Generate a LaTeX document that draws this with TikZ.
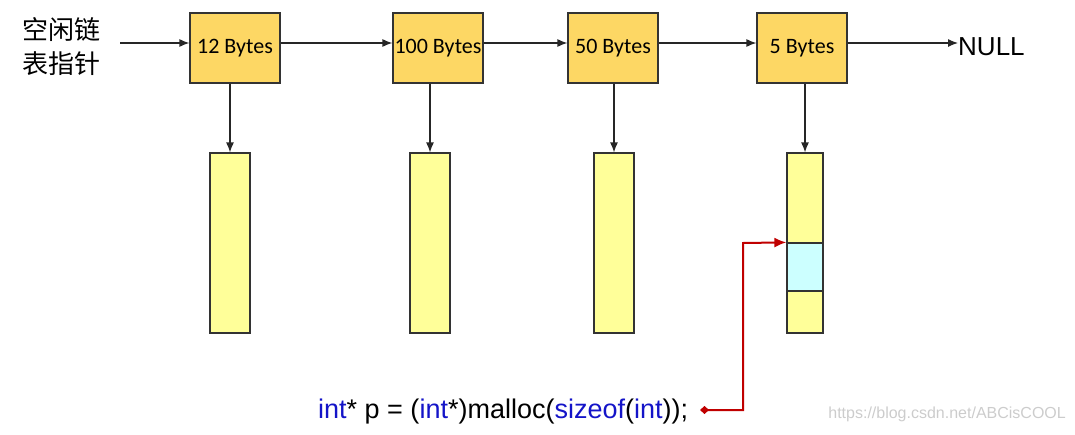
\documentclass[tikz,border=0pt]{standalone}
\usepackage{fontspec}
\setmainfont{Liberation Sans}
\newfontfamily\cjk{Noto Sans CJK SC}
\newfontfamily\cali{Carlito}
\usetikzlibrary{arrows.meta}
\definecolor{headfill}{RGB}{253,215,100}
\definecolor{blockfill}{RGB}{255,255,153}
\definecolor{usedfill}{RGB}{204,255,255}
\definecolor{codeblue}{RGB}{20,20,200}
\definecolor{ptrred}{RGB}{192,0,0}
\begin{document}
\begin{tikzpicture}[x=1pt, y=-1pt,
      head/.style = {draw=black!80, line width=1.2pt, fill=headfill, minimum width=90pt,
        minimum height=70pt, inner sep=0pt, font=\cali\fontsize{22}{22}\selectfont},
      block/.style = {draw=black!80, line width=1.2pt, fill=blockfill, minimum width=40pt,
        minimum height=180pt, inner sep=0pt},
      link/.style = {-{Latex[length=10pt,width=8pt]}, line width=1.2pt, black!85}
    ]
  \useasboundingbox (0,0) rectangle (1075,434);
  \node[font=\cjk\fontsize{26}{34}\selectfont, align=left, inner sep=0pt] (free) at (61,47) {空闲链\\表指针};
  \coordinate (start) at (120,43);
  \node[head] (h1) at (235,48) {\raisebox{-2pt}{12 Bytes}};
  \node[head] (h2) at (438,48) {\raisebox{-2pt}{100 Bytes}};
  \node[head] (h3) at (613,48) {\raisebox{-2pt}{50 Bytes}};
  \node[head] (h4) at (802,48) {\raisebox{-2pt}{5 Bytes}};
  \node[font=\fontsize{26}{26}\selectfont, anchor=west, inner sep=0pt] (null) at (958,47) {NULL};
  \draw[link] (start) -- (start -| h1.west);
  \draw[link] (h1.east |- start) -- (h2.west |- start);
  \draw[link] (h2.east |- start) -- (h3.west |- start);
  \draw[link] (h3.east |- start) -- (h4.west |- start);
  \draw[link] (h4.east |- start) -- (null.west |- start);
  % memory blocks
  \node[block] (b1) at (230,243) {};
  \node[block] (b2) at (430,243) {};
  \node[block] (b3) at (614,243) {};
  \node[block, minimum width=36pt] (b4) at (805,243) {};
  \node[draw=black!80, line width=1.2pt, fill=usedfill, minimum width=36pt, minimum height=48pt,
    inner sep=0pt] (used) at (805,267) {};
  \foreach \x/\i in {230/1,430/2,614/3,805/4}
    \draw[link] (h\i.south -| \x,0) -- (b\i.north -| \x,0);
  % malloc
  \node[font=\fontsize{27}{27}\selectfont, anchor=base west, inner sep=0pt] (code) at (318,418)
    {\textcolor{codeblue}{int}* p = (\textcolor{codeblue}{int}*)malloc(\textcolor{codeblue}{sizeof}(\textcolor{codeblue}{int}));};
  \coordinate (src) at (700,410);
  \draw[ptrred, line width=2pt, {Diamond[length=9pt,width=8pt]}-{Latex[length=12pt,width=10pt]}]
    (src) -| (743,243) -- (used.north west);
  \node[font=\fontsize{16}{16}\selectfont, text=black!20, anchor=base east, inner sep=0pt] (mark) at (1066,418)
    {https://blog.csdn.net/ABCisCOOL};
\end{tikzpicture}
\end{document}
